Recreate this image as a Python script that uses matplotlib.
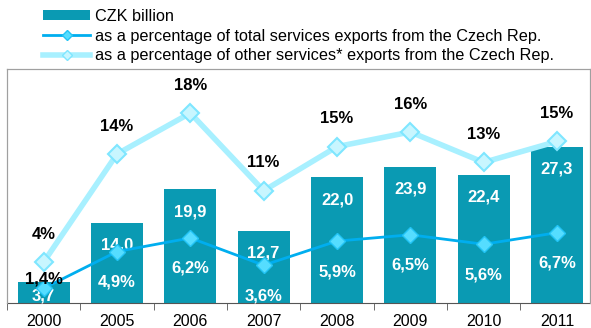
import matplotlib
matplotlib.use('Agg')
import matplotlib.pyplot as plt
import numpy as np
from matplotlib.lines import Line2D
from matplotlib.patches import Patch

plt.rcParams['font.family'] = ['Liberation Sans', 'DejaVu Sans']

years = ['2000', '2005', '2006', '2007', '2008', '2009', '2010', '2011']
czk_billion = [3.7, 14.0, 19.9, 12.7, 22.0, 23.9, 22.4, 27.3]
pct_total = [1.4, 4.9, 6.2, 3.6, 5.9, 6.5, 5.6, 6.7]
pct_other = [3.9, 14.2, 18.1, 10.7, 14.9, 16.3, 13.4, 15.4]
pct_other_labels = ['4%', '14%', '18%', '11%', '15%', '16%', '13%', '15%']

bar_color = '#0A9AB3'
total_color = '#00AEEF'
total_marker = '#55DDFF'
other_color = '#A8F0FF'
other_marker = '#C8F6FF'


def comma(v, pct=False):
    s = f"{v:.1f}".replace('.', ',')
    return s + '%' if pct else s


fig = plt.figure(figsize=(5.91, 3.28), dpi=100)
ax = fig.add_axes([7 / 591, 1 - 303 / 328, 583 / 591, 234 / 328])
x = np.arange(len(years))

ax.bar(x, czk_billion, width=0.71, color=bar_color, zorder=2)
ax.set_xlim(-0.5, 7.45)
ax.set_ylim(0, 41)
ax.set_yticks([])
ax.set_xticks(x)
ax.set_xticklabels(years, fontsize=11.5)
ax.tick_params(axis='x', which='major', length=0, pad=8)
ax.set_xticks(np.arange(-0.5, 7.5, 1), minor=True)
ax.tick_params(axis='x', which='minor', length=5, direction='out', color='#555555')
for side in ['left', 'top', 'right']:
    ax.spines[side].set_color('#A0A0A0')
ax.spines['bottom'].set_color('#555555')

ax2 = ax.twinx()
ax2.set_ylim(0, 22.3)
ax2.set_yticks([])
for side in ['left', 'top', 'right']:
    ax2.spines[side].set_color('#A0A0A0')
ax2.spines['bottom'].set_visible(False)

ax2.plot(x, pct_other, color=other_color, linewidth=4, marker='D', markersize=9,
         markerfacecolor=other_marker, markeredgecolor='#7FE6FF', markeredgewidth=1.5, zorder=3)
ax2.plot(x, pct_total, color=total_color, linewidth=2, marker='D', markersize=8,
         markerfacecolor=total_marker, markeredgecolor='#22C4F5', markeredgewidth=1, zorder=4)

# labels
lbl = dict(ha='center', va='center', fontsize=12, fontweight='bold', zorder=5)
for i, v in enumerate(czk_billion):
    if i == 0:
        ax.annotate(comma(v), (i, 0), xytext=(0, 5), textcoords='offset points',
                    color='white', **lbl)
    else:
        ax.annotate(comma(v), (i, v), xytext=(0, -16), textcoords='offset points',
                    color='white', **lbl)

for i, v in enumerate(pct_total):
    if i == 0:
        ax2.annotate(comma(v, True), (i, v), xytext=(0, 7), textcoords='offset points',
                     color='black', **lbl)
    else:
        ax2.annotate(comma(v, True), (i, v), xytext=(0, -22), textcoords='offset points',
                     color='white', **lbl)

for i, v in enumerate(pct_other):
    ax2.annotate(pct_other_labels[i], (i, v), xytext=(0, 20), textcoords='offset points',
                 color='black', **lbl)

handles = [
    Patch(facecolor=bar_color, edgecolor='none'),
    Line2D([], [], color=total_color, linewidth=2, marker='D', markersize=5,
           markerfacecolor=total_marker, markeredgecolor='#22C4F5'),
    Line2D([], [], color=other_color, linewidth=4, marker='D', markersize=5,
           markerfacecolor=other_marker, markeredgecolor='#7FE6FF'),
]
labels = ['CZK billion',
          'as a percentage of total services exports from the Czech Rep.',
          'as a percentage of other services* exports from the Czech Rep.']
fig.legend(handles, labels, loc='upper left', bbox_to_anchor=(43 / 591, 1 - 9 / 328),
           frameon=False, fontsize=11.7, handlelength=2.9, handleheight=0.55,
           handletextpad=0.3, labelspacing=0.28, borderpad=0, borderaxespad=0)

fig.savefig('out.png', dpi=100)
